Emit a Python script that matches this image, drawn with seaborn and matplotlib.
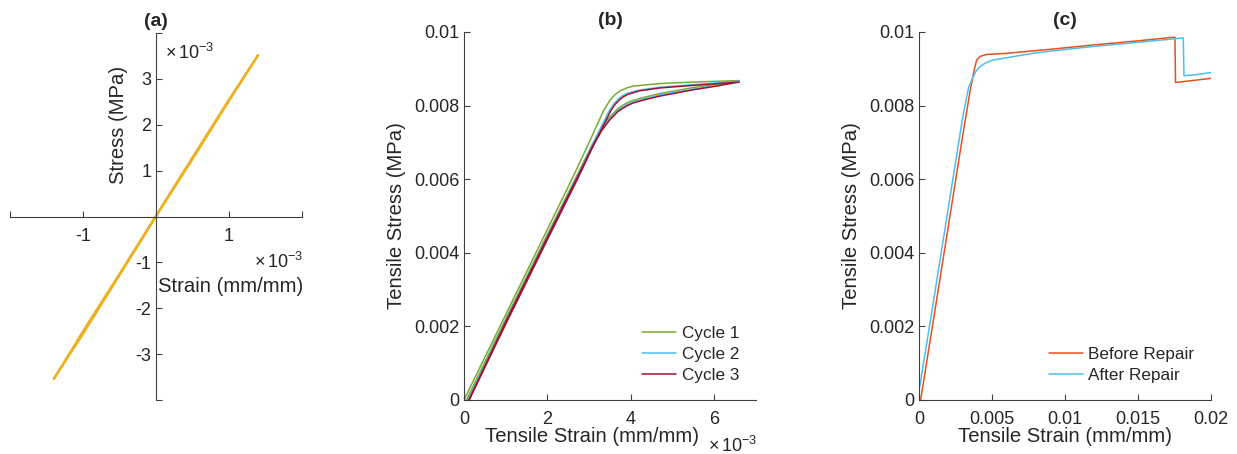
import numpy as np
import pandas as pd
import matplotlib
matplotlib.use("Agg")
import matplotlib.pyplot as plt
import seaborn as sns

# ---------------- data ----------------
# (a) stress-strain through origin (loading / unloading branches)
a_strain = [-1.40e-3, -1.00e-3, -0.50e-3, 0.0, 0.50e-3, 1.00e-3, 1.40e-3,
            1.00e-3, 0.50e-3, 0.0, -0.50e-3, -1.00e-3, -1.40e-3]
a_stress = [-3.54e-3, -2.56e-3, -1.28e-3, 0.0, 1.25e-3, 2.52e-3, 3.52e-3,
            2.55e-3, 1.29e-3, 0.02e-3, -1.25e-3, -2.50e-3, -3.54e-3]

# (b) three cycles: loading branch then return branch
b_cycles = ["Cycle 1", "Cycle 2", "Cycle 3"]
b_strain = {
    "Cycle 1": [0.0, 1.0e-3, 2.0e-3, 2.62e-3, 3.0e-3, 3.2e-3, 3.34e-3, 3.5e-3, 3.62e-3, 3.74e-3, 3.9e-3, 4.06e-3, 4.7e-3, 5.5e-3, 6.6e-3,
                6.0e-3, 5.5e-3, 4.7e-3, 4.3e-3, 4.05e-3, 3.9e-3, 3.7e-3, 3.5e-3, 3.3e-3, 3.1e-3, 2.75e-3, 2.0e-3, 1.0e-3, 0.06e-3],
    "Cycle 2": [0.1e-3, 1.0e-3, 2.0e-3, 2.7e-3, 3.1e-3, 3.3e-3, 3.5e-3, 3.6e-3, 3.7e-3, 3.8e-3, 3.9e-3, 4.2e-3, 4.7e-3, 5.5e-3, 6.6e-3,
                6.0e-3, 5.5e-3, 4.7e-3, 4.3e-3, 4.05e-3, 3.9e-3, 3.7e-3, 3.5e-3, 3.3e-3, 3.1e-3, 2.75e-3, 2.0e-3, 1.0e-3, 0.1e-3],
    "Cycle 3": [0.12e-3, 1.0e-3, 2.0e-3, 2.72e-3, 3.12e-3, 3.32e-3, 3.52e-3, 3.62e-3, 3.72e-3, 3.82e-3, 3.92e-3, 4.2e-3, 4.7e-3, 5.5e-3, 6.6e-3,
                6.0e-3, 5.5e-3, 4.7e-3, 4.3e-3, 4.05e-3, 3.9e-3, 3.7e-3, 3.5e-3, 3.3e-3, 3.1e-3, 2.75e-3, 2.0e-3, 1.0e-3, 0.12e-3],
}
b_stress = {
    "Cycle 1": [0.0, 0.00232, 0.00464, 0.00608, 0.00700, 0.00750, 0.00785, 0.00815, 0.00830, 0.00840, 0.00848, 0.00853, 0.00860, 0.00864, 0.00868,
                0.00857, 0.00849, 0.00833, 0.00822, 0.00814, 0.00807, 0.00793, 0.00770, 0.00740, 0.00700, 0.00620, 0.00450, 0.00220, 0.0],
    "Cycle 2": [0.0, 0.00210, 0.00440, 0.00604, 0.00700, 0.00745, 0.00790, 0.00806, 0.00818, 0.00827, 0.00833, 0.00842, 0.00850, 0.00857, 0.00866,
                0.00854, 0.00845, 0.00829, 0.00818, 0.00810, 0.00802, 0.00788, 0.00765, 0.00735, 0.00696, 0.00616, 0.00446, 0.00216, 0.0],
    "Cycle 3": [0.0, 0.00206, 0.00436, 0.00600, 0.00696, 0.00741, 0.00786, 0.00803, 0.00815, 0.00824, 0.00830, 0.00840, 0.00848, 0.00855, 0.00864,
                0.00852, 0.00843, 0.00826, 0.00815, 0.00807, 0.00799, 0.00785, 0.00762, 0.00732, 0.00693, 0.00613, 0.00443, 0.00213, 0.0],
}

# (c) before / after repair
c_series = ["Before Repair", "After Repair"]
c_strain = {
    "Before Repair": [0.00011, 0.0010, 0.0020, 0.0030, 0.0035, 0.0037, 0.0038, 0.00395, 0.0042, 0.00464, 0.0060, 0.0090,
                      0.0120, 0.0150, 0.01753, 0.01757, 0.0185, 0.0200],
    "After Repair": [0.00005, 0.0010, 0.0020, 0.0030, 0.0034, 0.00372, 0.0039, 0.00418, 0.0046, 0.0051, 0.0060, 0.0078,
                     0.0090, 0.0120, 0.0150, 0.0181, 0.01815, 0.0190, 0.0200],
}
c_stress = {
    "Before Repair": [0.0, 0.0022, 0.0047, 0.0072, 0.0084, 0.0088, 0.0090, 0.00924, 0.00934, 0.00939, 0.00942, 0.00953,
                      0.00965, 0.00976, 0.00986, 0.00863, 0.00867, 0.00874],
    "After Repair": [0.00036, 0.0027, 0.0052, 0.0077, 0.0085, 0.00879, 0.00893, 0.00906, 0.00917, 0.00924, 0.00930, 0.00942,
                     0.00948, 0.00961, 0.00972, 0.00984, 0.00881, 0.00884, 0.0089],
}

# ---------------- styling ----------------
sns.set_theme(style="white")
plt.rcParams['font.family'] = ['Liberation Sans', 'DejaVu Sans']
plt.rcParams['mathtext.fontset'] = 'custom'
plt.rcParams['mathtext.rm'] = 'Liberation Sans'
plt.rcParams['mathtext.it'] = 'Liberation Sans:italic'
plt.rcParams['mathtext.bf'] = 'Liberation Sans:bold'
TICK_FS = 13
LABEL_FS = 14.6
TITLE_FS = 14
LEG_FS = 12.3
OFF_FS = 13
AX_COLOR = "#404040"
TXT_COLOR = "#262626"

fig = plt.figure(figsize=(12.37, 4.54), dpi=100)
W, H = 1237, 454
def pos(left, top, right, bottom):
    return [left / W, 1 - bottom / H, (right - left) / W, (bottom - top) / H]

ax_a = fig.add_axes(pos(10, 33, 302, 400))
ax_b = fig.add_axes(pos(464, 32, 756, 400))
ax_c = fig.add_axes(pos(919, 32, 1211, 400))

OFFSET = r"$\times\,\mathrm{10}^{\mathrm{-3}}$"

# ---- (a) ----
df_a = pd.DataFrame({"strain": a_strain, "stress": a_stress})
sns.lineplot(data=df_a, x="strain", y="stress", sort=False, estimator=None,
             color="#EDB120", lw=1.6, ax=ax_a)
ax_a.set_xlim(-2e-3, 2e-3)
ax_a.set_ylim(-4e-3, 4e-3)
for s in ["top", "right"]:
    ax_a.spines[s].set_visible(False)
ax_a.spines["left"].set_position("zero")
ax_a.spines["bottom"].set_position("zero")
ax_a.set_xticks([-2e-3, -1e-3, 1e-3, 2e-3])
ax_a.set_xticklabels(["", "-1", "1", ""])
ax_a.set_yticks([-4e-3, -3e-3, -2e-3, -1e-3, 1e-3, 2e-3, 3e-3, 4e-3])
ax_a.set_yticklabels(["", "-3", "-2", "-1", "1", "2", "3", ""])
ax_a.set_xlabel("Strain (mm/mm)", fontsize=LABEL_FS)
ax_a.set_ylabel("Stress (MPa)", fontsize=LABEL_FS)
ax_a.xaxis.set_label_coords(0.755, 0.335)
ax_a.yaxis.set_label_coords(0.405, 0.75)
ax_a.set_title("(a)", fontsize=TITLE_FS, fontweight="bold", pad=5)
fig.text(165 / W, 1 - 53 / H, OFFSET, fontsize=OFF_FS, va="center", ha="left", color=TXT_COLOR)
fig.text(254 / W, 1 - 262 / H, OFFSET, fontsize=OFF_FS, va="center", ha="left", color=TXT_COLOR)

# ---- (b) ----
rows = []
for cyc in b_cycles:
    for x, y in zip(b_strain[cyc], b_stress[cyc]):
        rows.append((cyc, x, y))
df_b = pd.DataFrame(rows, columns=["cycle", "strain", "stress"])
sns.lineplot(data=df_b, x="strain", y="stress", hue="cycle", sort=False, estimator=None,
             palette=["#77AC30", "#4DBEEE", "#A2142F"], lw=1.1, ax=ax_b)
ax_b.set_xlim(0, 7e-3)
ax_b.set_ylim(0, 0.01)
ax_b.set_xticks([0, 2e-3, 4e-3, 6e-3])
ax_b.set_xticklabels(["0", "2", "4", "6"])
ax_b.set_yticks([0, 0.002, 0.004, 0.006, 0.008, 0.01])
ax_b.set_yticklabels(["0", "0.002", "0.004", "0.006", "0.008", "0.01"])
ax_b.set_xlabel("Tensile Strain (mm/mm)", fontsize=LABEL_FS)
ax_b.set_ylabel("Tensile Stress (MPa)", fontsize=LABEL_FS)
ax_b.xaxis.set_label_coords(0.44, -0.073)
ax_b.yaxis.set_label_coords(-0.197, 0.5)
ax_b.set_title("(b)", fontsize=TITLE_FS, fontweight="bold", pad=5)
fig.text(708 / W, 1 - 446 / H, OFFSET, fontsize=OFF_FS, va="center", ha="left", color=TXT_COLOR)
ax_b.legend(loc="lower right", frameon=False, fontsize=LEG_FS, handlelength=2.0,
            handletextpad=0.3, borderaxespad=0.7, labelspacing=0.35, borderpad=0.3)

# ---- (c) ----
rows = []
for ser in c_series:
    for x, y in zip(c_strain[ser], c_stress[ser]):
        rows.append((ser, x, y))
df_c = pd.DataFrame(rows, columns=["series", "strain", "stress"])
sns.lineplot(data=df_c, x="strain", y="stress", hue="series", sort=False, estimator=None,
             palette=["#E8501E", "#4DBEEE"], lw=1.1, ax=ax_c)
ax_c.set_xlim(0, 0.02)
ax_c.set_ylim(0, 0.01)
ax_c.set_xticks([0, 0.005, 0.01, 0.015, 0.02])
ax_c.set_xticklabels(["0", "0.005", "0.01", "0.015", "0.02"])
ax_c.set_yticks([0, 0.002, 0.004, 0.006, 0.008, 0.01])
ax_c.set_yticklabels(["0", "0.002", "0.004", "0.006", "0.008", "0.01"])
ax_c.set_xlabel("Tensile Strain (mm/mm)", fontsize=LABEL_FS)
ax_c.set_ylabel("Tensile Stress (MPa)", fontsize=LABEL_FS)
ax_c.xaxis.set_label_coords(0.5, -0.073)
ax_c.yaxis.set_label_coords(-0.197, 0.5)
ax_c.set_title("(c)", fontsize=TITLE_FS, fontweight="bold", pad=5)
ax_c.legend(loc="lower right", frameon=False, fontsize=LEG_FS, handlelength=2.0,
            handletextpad=0.3, borderaxespad=0.7, labelspacing=0.35, borderpad=0.3)

for ax in (ax_b, ax_c):
    for s in ["top", "right"]:
        ax.spines[s].set_visible(False)

for ax in (ax_a, ax_b, ax_c):
    for s in ax.spines.values():
        s.set_color(AX_COLOR)
        s.set_linewidth(0.8)
    ax.tick_params(axis="both", direction="in", length=4, width=0.8, color=AX_COLOR,
                   labelsize=TICK_FS, labelcolor=TXT_COLOR,
                   bottom=True, left=True, top=False, right=False)
    ax.tick_params(axis="x", pad=8)
    ax.tick_params(axis="y", pad=3.5)
    ax.xaxis.label.set_color(TXT_COLOR)
    ax.yaxis.label.set_color(TXT_COLOR)
    ax.set_facecolor("white")
    for ln in ax.get_lines():
        ln.set_solid_joinstyle("round")

fig.savefig("out.png", dpi=100, facecolor="white")
